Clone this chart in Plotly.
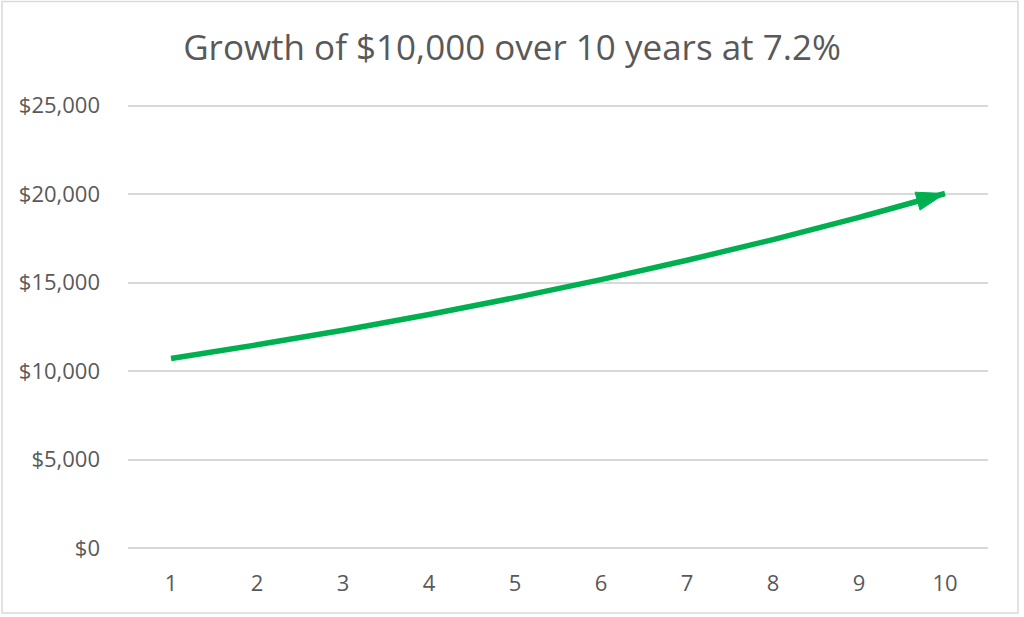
import plotly.graph_objects as go

years = [1, 2, 3, 4, 5, 6, 7, 8, 9, 10]
values = [10720, 11492, 12319, 13206, 14157, 15176, 16269, 17440, 18696, 20042]
y_ticks = [0, 5000, 10000, 15000, 20000, 25000]
y_tick_labels = ["$0", "$5,000", "$10,000", "$15,000", "$20,000", "$25,000"]

green = "#00B050"
font_family = "Open Sans, Liberation Sans, sans-serif"

fig = go.Figure()
fig.add_trace(go.Scatter(
    x=years, y=values, mode="lines+markers",
    line=dict(color=green, width=5.5, shape="spline"),
    marker=dict(symbol="arrow", angleref="previous", opacity=1,
                size=[0] * (len(years) - 1) + [30], color=green,
                line=dict(width=1, color=green)),
    hoverinfo="x+y", showlegend=False,
))

# plot area: 25200-unit range spans 445.5px so that 0 -> y=548 and 25000 -> y=106
fig.update_layout(
    width=1024, height=617,
    margin=dict(l=128, r=36, t=104, b=67),
    paper_bgcolor="white", plot_bgcolor="white",
    title=dict(text="Growth of $10,000 over 10 years at 7.2%",
               x=0.5, xanchor="center", y=0.922, yanchor="middle",
               font=dict(family=font_family, size=35, color="#595959")),
    xaxis=dict(range=[0.5, 10.5], tickvals=years, ticktext=[str(v) for v in years],
               showgrid=False, zeroline=False, showline=False, ticks="",
               ticklabelstandoff=18,
               tickfont=dict(family=font_family, size=22, color="#595959")),
    yaxis=dict(range=[-100, 25100], tickvals=y_ticks, ticktext=y_tick_labels,
               showgrid=True, gridcolor="#d9d9d9", gridwidth=1.5, zeroline=False,
               showline=False, ticks="", ticklabelstandoff=27,
               tickfont=dict(family=font_family, size=22, color="#595959")),
    shapes=[dict(type="rect", xref="paper", yref="paper",
                 x0=(2 - 128) / 860, x1=(1018 - 128) / 860,
                 y0=(550 - 613) / 445.5, y1=(550 - 2) / 445.5,
                 line=dict(color="#d9d9d9", width=1.5), layer="below")],
)

fig.write_html("out.html", config={"displayModeBar": False},
               post_script="document.body.style.margin='0';")
